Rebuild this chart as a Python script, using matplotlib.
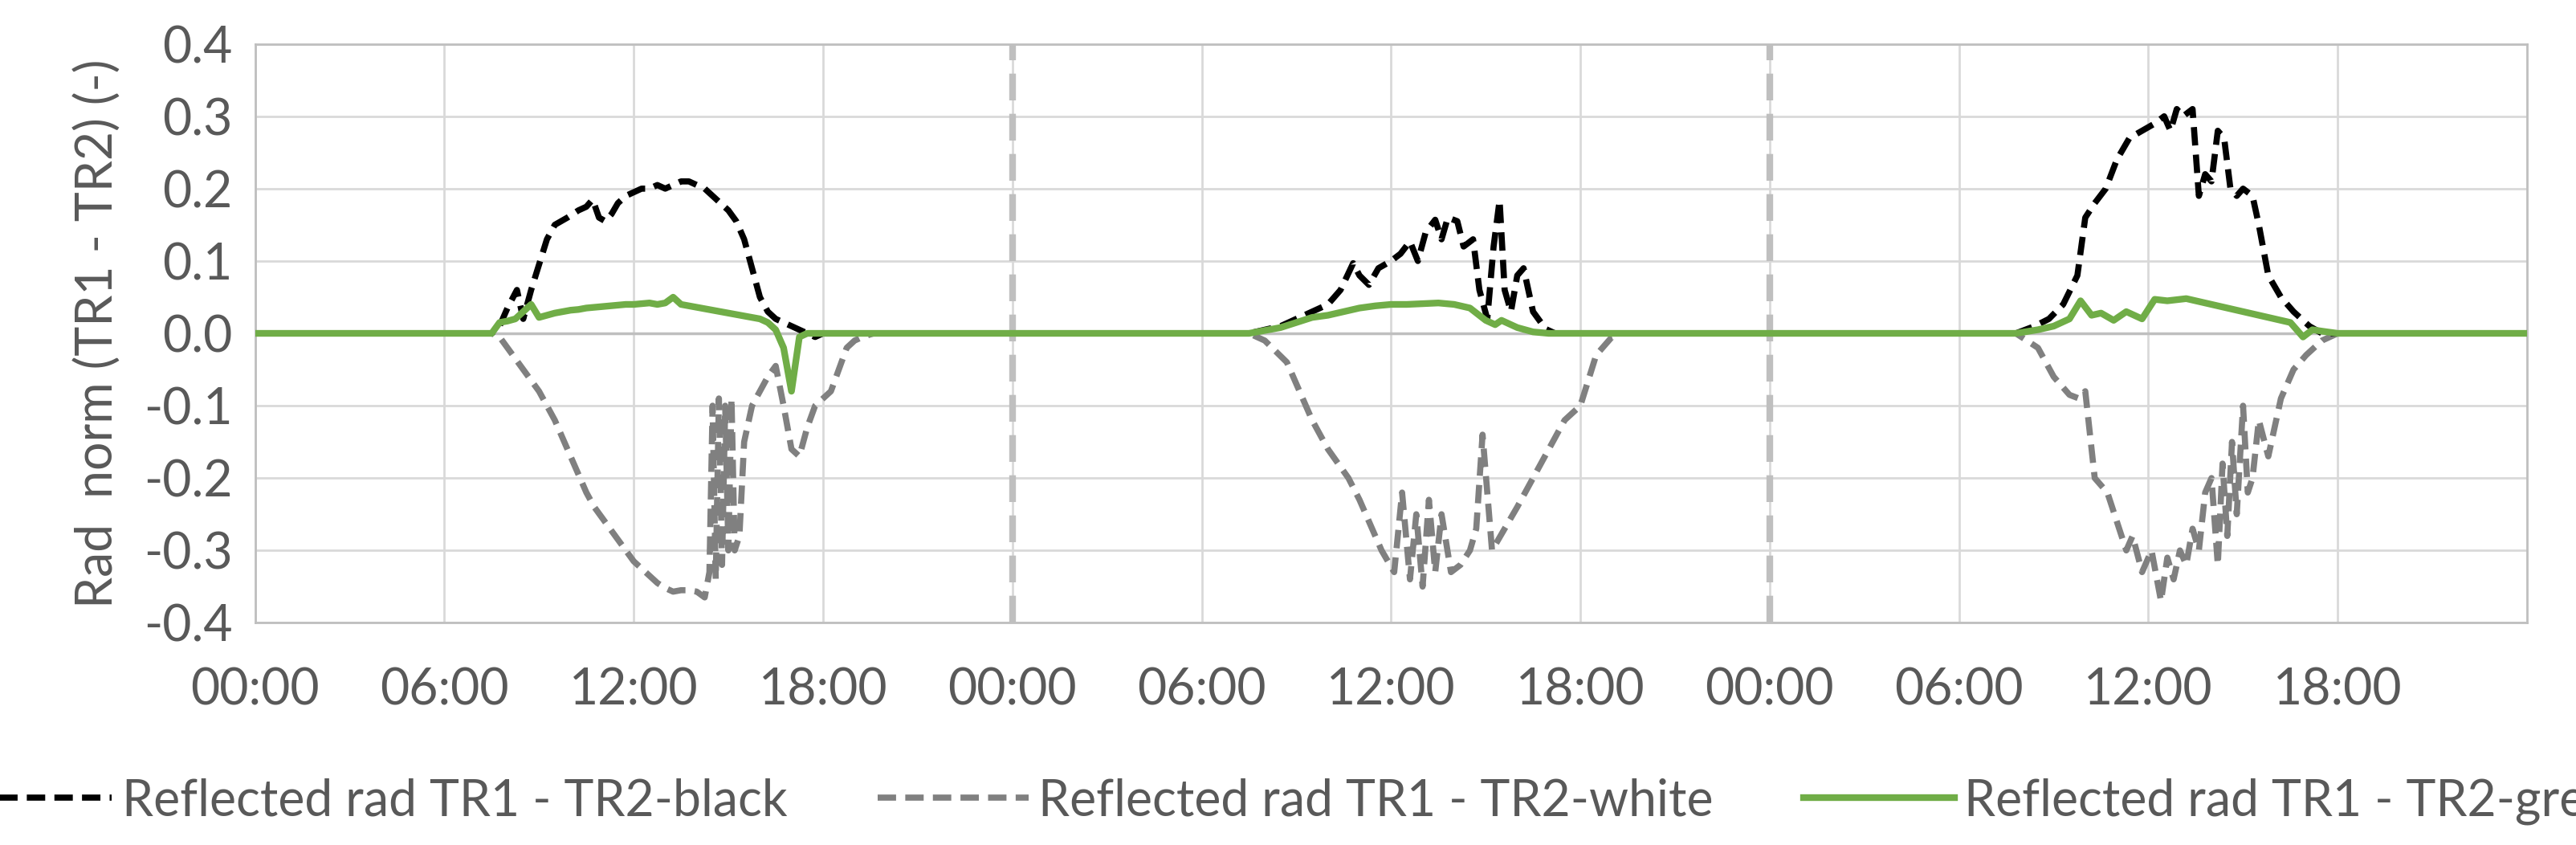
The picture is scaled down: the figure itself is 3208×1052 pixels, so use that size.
import matplotlib
matplotlib.use("Agg")
import matplotlib.pyplot as plt
import numpy as np

# --- data: hour-of-day and values for each of the three days ---
d1_black_t = [0, 7.5, 7.75, 8.0, 8.3, 8.5, 8.75, 9.0, 9.25, 9.5, 9.9, 10.25, 10.5, 10.7, 10.9, 11.1, 11.3, 11.5, 11.75, 12.0, 12.25, 12.5, 12.75, 13.0, 13.25, 13.5, 13.75, 14.0, 14.25, 14.5, 14.75, 15.0, 15.25, 15.5, 15.75, 16.0, 16.25, 16.5, 16.75, 17.0, 17.25, 17.5, 17.75, 18.0, 24]
d1_black_v = [0, 0, 0.01, 0.035, 0.06, 0.02, 0.06, 0.095, 0.13, 0.15, 0.16, 0.17, 0.175, 0.185, 0.16, 0.155, 0.165, 0.18, 0.19, 0.195, 0.2, 0.2, 0.205, 0.2, 0.205, 0.21, 0.21, 0.205, 0.2, 0.19, 0.18, 0.17, 0.155, 0.13, 0.09, 0.05, 0.03, 0.02, 0.015, 0.01, 0.005, 0, -0.005, 0, 0]
d1_white_t = [0, 7.5, 7.75, 8.0, 8.25, 8.5, 8.75, 9.0, 9.25, 9.5, 9.75, 10.0, 10.25, 10.5, 10.75, 11.0, 11.25, 11.5, 11.75, 12.0, 12.25, 12.5, 12.75, 13.0, 13.25, 13.5, 13.75, 14.0, 14.25, 14.4, 14.5, 14.6, 14.7, 14.8, 14.9, 15.0, 15.1, 15.2, 15.35, 15.5, 15.75, 16.0, 16.25, 16.5, 16.75, 17.0, 17.25, 17.5, 17.75, 18.0, 18.25, 18.5, 18.75, 19.0, 19.25, 19.6, 24]
d1_white_v = [0, 0, -0.005, -0.02, -0.035, -0.05, -0.065, -0.08, -0.1, -0.12, -0.145, -0.17, -0.195, -0.22, -0.24, -0.255, -0.27, -0.285, -0.3, -0.315, -0.325, -0.335, -0.345, -0.352, -0.357, -0.355, -0.355, -0.357, -0.365, -0.33, -0.1, -0.34, -0.09, -0.32, -0.1, -0.3, -0.09, -0.3, -0.28, -0.15, -0.1, -0.08, -0.06, -0.045, -0.1, -0.16, -0.17, -0.13, -0.1, -0.09, -0.08, -0.05, -0.02, -0.01, -0.005, 0, 0]
d1_green_t = [0, 7.5, 7.75, 8.0, 8.25, 8.5, 8.75, 9.0, 9.25, 9.5, 9.75, 10.0, 10.25, 10.5, 10.75, 11.0, 11.25, 11.5, 11.75, 12.0, 12.25, 12.5, 12.75, 13.0, 13.25, 13.5, 13.75, 14.0, 14.25, 14.5, 14.75, 15.0, 15.25, 15.5, 15.75, 16.0, 16.25, 16.5, 16.75, 17.0, 17.25, 17.5, 24]
d1_green_v = [0, 0, 0.015, 0.017, 0.02, 0.03, 0.04, 0.022, 0.025, 0.028, 0.03, 0.032, 0.033, 0.035, 0.036, 0.037, 0.038, 0.039, 0.04, 0.04, 0.041, 0.042, 0.04, 0.042, 0.05, 0.04, 0.038, 0.036, 0.034, 0.032, 0.03, 0.028, 0.026, 0.024, 0.022, 0.02, 0.015, 0.005, -0.02, -0.08, -0.005, 0, 0]

d2_black_t = [0, 7.5, 8.0, 8.5, 9.0, 9.5, 10.0, 10.4, 10.8, 11.0, 11.3, 11.6, 12.0, 12.3, 12.6, 12.85, 13.1, 13.4, 13.6, 13.8, 14.1, 14.3, 14.6, 14.8, 15.05, 15.25, 15.44, 15.6, 15.8, 16.0, 16.2, 16.5, 16.9, 17.2, 24]
d2_black_v = [0, 0, 0.005, 0.01, 0.02, 0.03, 0.04, 0.06, 0.097, 0.08, 0.067, 0.09, 0.1, 0.11, 0.127, 0.1, 0.14, 0.157, 0.13, 0.16, 0.155, 0.12, 0.13, 0.06, 0.02, 0.12, 0.184, 0.06, 0.03, 0.08, 0.09, 0.03, 0.006, 0, 0]
d2_white_t = [0, 7.5, 8.0, 8.7, 9.1, 9.5, 10.0, 10.65, 11.0, 11.3, 11.7, 12.1, 12.35, 12.6, 12.8, 13.0, 13.2, 13.4, 13.6, 13.9, 14.2, 14.5, 14.7, 14.9, 15.2, 15.6, 16.0, 16.5, 17.0, 17.5, 18.0, 18.5, 19.0, 19.3, 24]
d2_white_v = [0, 0, -0.01, -0.04, -0.08, -0.12, -0.16, -0.2, -0.23, -0.26, -0.3, -0.33, -0.22, -0.34, -0.25, -0.35, -0.23, -0.33, -0.25, -0.33, -0.32, -0.3, -0.27, -0.14, -0.3, -0.27, -0.24, -0.2, -0.16, -0.12, -0.1, -0.03, -0.005, 0, 0]
d2_green_t = [0, 7.5, 8.0, 8.5, 9.0, 9.5, 10.0, 10.5, 11.0, 11.5, 12.0, 12.5, 13.0, 13.5, 14.0, 14.5, 15.0, 15.3, 15.5, 16.0, 16.5, 17.0, 24]
d2_green_v = [0, 0, 0.004, 0.008, 0.015, 0.022, 0.025, 0.03, 0.035, 0.038, 0.04, 0.04, 0.041, 0.042, 0.04, 0.035, 0.018, 0.012, 0.018, 0.008, 0.002, 0, 0]

d3_black_t = [0, 7.8, 8.4, 8.85, 9.3, 9.75, 10.0, 10.3, 10.65, 11.0, 11.4, 11.8, 12.2, 12.5, 12.7, 12.9, 13.1, 13.4, 13.6, 13.8, 14.0, 14.2, 14.4, 14.6, 14.8, 15.0, 15.3, 15.5, 15.8, 16.2, 16.6, 17.1, 17.5, 24]
d3_black_v = [0, 0, 0.01, 0.02, 0.04, 0.08, 0.16, 0.18, 0.2, 0.24, 0.27, 0.28, 0.29, 0.3, 0.28, 0.31, 0.3, 0.31, 0.19, 0.22, 0.21, 0.28, 0.27, 0.2, 0.19, 0.2, 0.19, 0.15, 0.08, 0.05, 0.03, 0.01, 0, 0]
d3_white_t = [0, 7.8, 8.5, 9.0, 9.5, 9.8, 10.0, 10.3, 10.7, 11.0, 11.3, 11.5, 11.8, 12.1, 12.4, 12.6, 12.8, 13.0, 13.2, 13.4, 13.6, 13.8, 14.0, 14.2, 14.35, 14.5, 14.65, 14.8, 15.0, 15.15, 15.3, 15.5, 15.8, 16.2, 16.6, 17.0, 17.5, 18.0, 24]
d3_white_v = [0, 0, -0.02, -0.06, -0.085, -0.09, -0.08, -0.2, -0.22, -0.26, -0.3, -0.28, -0.33, -0.3, -0.37, -0.31, -0.34, -0.3, -0.32, -0.27, -0.3, -0.22, -0.2, -0.32, -0.18, -0.28, -0.15, -0.25, -0.1, -0.22, -0.2, -0.12, -0.17, -0.09, -0.05, -0.03, -0.01, 0, 0]
d3_green_t = [0, 7.8, 8.5, 9.0, 9.5, 9.85, 10.2, 10.5, 10.9, 11.3, 11.8, 12.2, 12.6, 13.2, 14.0, 15.0, 16.0, 16.5, 16.9, 17.2, 17.5, 18.0, 24]
d3_green_v = [0, 0, 0.005, 0.01, 0.02, 0.045, 0.025, 0.028, 0.018, 0.03, 0.02, 0.047, 0.045, 0.048, 0.04, 0.03, 0.02, 0.015, -0.005, 0.005, 0.003, 0, 0]

day_starts = [0, 24, 48]
tick_hours = list(range(0, 72, 6))
tick_labels = ["00:00", "06:00", "12:00", "18:00"] * 3
y_ticks = [-0.4, -0.3, -0.2, -0.1, 0.0, 0.1, 0.2, 0.3, 0.4]

def join(days):
    t, v = [], []
    for off, (tt, vv) in zip(day_starts, days):
        t += [off + x for x in tt]
        v += list(vv)
    return np.array(t), np.array(v)

black_t, black_v = join([(d1_black_t, d1_black_v), (d2_black_t, d2_black_v), (d3_black_t, d3_black_v)])
white_t, white_v = join([(d1_white_t, d1_white_v), (d2_white_t, d2_white_v), (d3_white_t, d3_white_v)])
green_t, green_v = join([(d1_green_t, d1_green_v), (d2_green_t, d2_green_v), (d3_green_t, d3_green_v)])

plt.rcParams['font.family'] = ['Lato', 'DejaVu Sans']
txt = '#595959'
fs = 45
fig = plt.figure(figsize=(32.08, 10.52), dpi=100)
ax = fig.add_axes([0.099, 0.263, 0.882, 0.685])

ax.grid(True, color='#D9D9D9', lw=2)
ax.set_axisbelow(True)
for d in day_starts[1:]:
    ax.axvline(d, color='#BFBFBF', lw=6, ls=(0, (4, 2)), zorder=1)
ax.axhline(0, color='#BFBFBF', lw=2.5, zorder=1)

ax.plot(white_t, white_v, color='#808080', lw=5.5, ls=(0, (3, 1.5)), label='Reflected rad TR1 - TR2-white', zorder=3)
ax.plot(black_t, black_v, color='black', lw=5.5, ls=(0, (3, 1.5)), label='Reflected rad TR1 - TR2-black', zorder=4)
ax.plot(green_t, green_v, color='#70AD47', lw=6, label='Reflected rad TR1 - TR2-green', zorder=5)

ax.set_xlim(0, 72)
ax.set_ylim(-0.4, 0.4)
ax.set_xticks(tick_hours)
ax.set_xticklabels(tick_labels)
ax.set_yticks(y_ticks)
ax.set_yticklabels([f"{y:.1f}" for y in y_ticks])
ax.tick_params(axis='both', length=0, labelsize=fs, colors=txt, pad=40)
ax.tick_params(axis='y', pad=20)
for s in ax.spines.values():
    s.set_color('#BFBFBF'); s.set_linewidth(2)
ax.set_ylabel('Rad  norm (TR1 - TR2) (-)', fontsize=fs, color=txt, labelpad=20)

h, l = ax.get_legend_handles_labels()
order = [1, 0, 2]
fig.legend([h[i] for i in order], [l[i] for i in order], loc='center', bbox_to_anchor=(0.505, 0.052),
           ncol=3, frameon=False, fontsize=fs, labelcolor=txt, handlelength=3.0, columnspacing=1.8, handletextpad=0.2)

fig.savefig('out.png', dpi=100)
